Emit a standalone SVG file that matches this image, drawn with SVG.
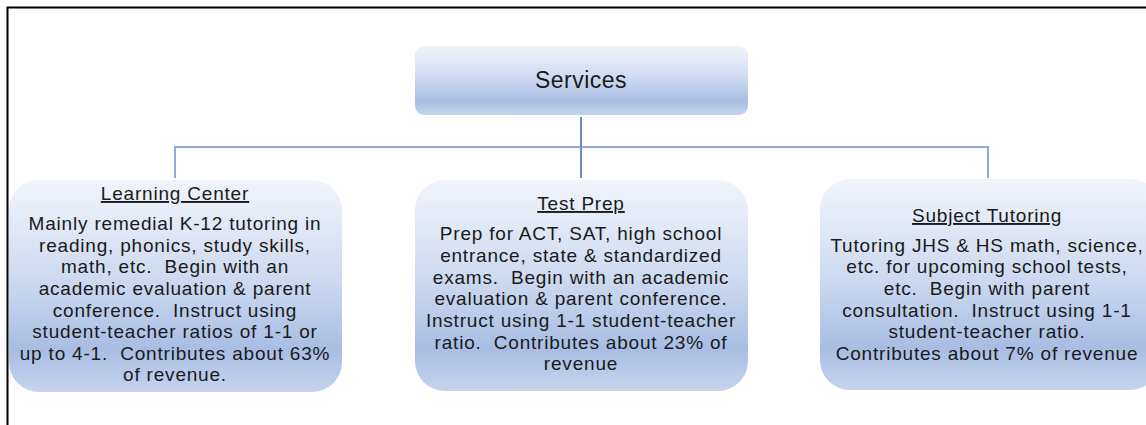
<svg xmlns="http://www.w3.org/2000/svg" width="1146" height="425" viewBox="0 0 1146 425">
<defs>
<linearGradient id="g" x1="0" y1="0" x2="0" y2="1">
<stop offset="0" stop-color="#f1f4fb"/>
<stop offset="0.45" stop-color="#d0dbf0"/>
<stop offset="0.8" stop-color="#a9bde3"/>
<stop offset="1" stop-color="#c6d3ed"/>
</linearGradient>
<style>
.box{fill:url(#g);}
.t{font-family:"Liberation Sans",Arial,sans-serif;font-size:19px;letter-spacing:0.8px;fill:#1a1a1a;text-anchor:middle;white-space:pre;}
.h{text-decoration:underline;}
.c{fill:none;stroke:#8eaadb;stroke-width:2;}
</style>
</defs>
<rect x="0" y="0" width="1146" height="425" fill="#ffffff"/>
<path d="M7.5,425 V7.5 H1146" fill="none" stroke="#000" stroke-width="2"/>
<g id="connectors">
<path class="c" d="M175,178 V147 H988 V178"/>
<path d="M581,117 V178" fill="none" stroke="#6f8bc4" stroke-width="2"/>
</g>
<g id="services">
<rect class="box" x="415" y="46" width="333" height="69" rx="9"/>
<text class="t" x="581" y="88" style="font-size:23px;letter-spacing:0.5px">Services</text>
</g>
<g id="learning-center">
<rect class="box" x="9" y="180" width="333" height="212" rx="30"/>
<text class="t h" x="175" y="200">Learning Center</text>
<text class="t" x="175" y="230" xml:space="preserve">Mainly remedial K-12 tutoring in</text>
<text class="t" x="175" y="252" xml:space="preserve">reading, phonics, study skills,</text>
<text class="t" x="175" y="273" xml:space="preserve">math, etc.  Begin with an</text>
<text class="t" x="175" y="295" xml:space="preserve">academic evaluation &amp; parent</text>
<text class="t" x="175" y="317" xml:space="preserve">conference.  Instruct using</text>
<text class="t" x="175" y="338" xml:space="preserve">student-teacher ratios of 1-1 or</text>
<text class="t" x="175" y="360" xml:space="preserve">up to 4-1.  Contributes about 63%</text>
<text class="t" x="175" y="381" xml:space="preserve">of revenue.</text>
</g>
<g id="test-prep">
<rect class="box" x="415" y="180" width="333" height="211" rx="30"/>
<text class="t h" x="581" y="210">Test Prep</text>
<text class="t" x="581" y="240" xml:space="preserve">Prep for ACT, SAT, high school</text>
<text class="t" x="581" y="262" xml:space="preserve">entrance, state &amp; standardized</text>
<text class="t" x="581" y="284" xml:space="preserve">exams.  Begin with an academic</text>
<text class="t" x="581" y="305" xml:space="preserve">evaluation &amp; parent conference.</text>
<text class="t" x="581" y="327" xml:space="preserve">Instruct using 1-1 student-teacher</text>
<text class="t" x="581" y="349" xml:space="preserve">ratio.  Contributes about 23% of</text>
<text class="t" x="581" y="370" xml:space="preserve">revenue</text>
</g>
<g id="subject-tutoring">
<rect class="box" x="820" y="179" width="340" height="211" rx="30"/>
<text class="t h" x="987" y="222">Subject Tutoring</text>
<text class="t" x="987" y="252" xml:space="preserve">Tutoring JHS &amp; HS math, science,</text>
<text class="t" x="987" y="273" xml:space="preserve">etc. for upcoming school tests,</text>
<text class="t" x="987" y="295" xml:space="preserve">etc.  Begin with parent</text>
<text class="t" x="987" y="317" xml:space="preserve">consultation.  Instruct using 1-1</text>
<text class="t" x="987" y="338" xml:space="preserve">student-teacher ratio.</text>
<text class="t" x="987" y="360" xml:space="preserve">Contributes about 7% of revenue</text>
</g>
</svg>
